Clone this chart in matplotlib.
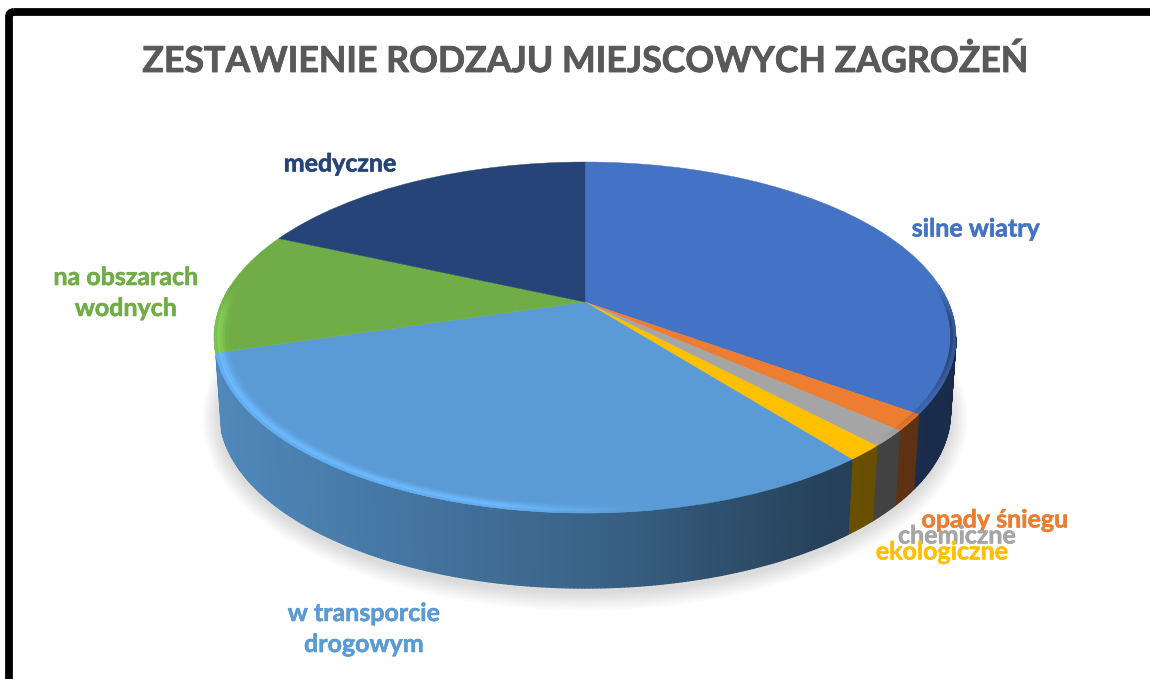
import numpy as np
import matplotlib
matplotlib.use("Agg")
import matplotlib.pyplot as plt
import matplotlib.patheffects as pe
from matplotlib.collections import PolyCollection
from matplotlib.colors import to_rgb
from matplotlib.patches import FancyBboxPatch
from matplotlib.transforms import Transform

# Shares, in percent
categories = ["silne wiatry", "opady śniegu", "chemiczne", "ekologiczne",
              "w transporcie\ndrogowym", "na obszarach\nwodnych", "medyczne"]
values = [35.0, 1.5, 1.5, 1.4, 31.0, 11.3, 18.3]
colors = ["#4472C4", "#ED7D31", "#A5A5A5", "#FFC000", "#5B9BD5", "#70AD47", "#264478"]
title = "ZESTAWIENIE RODZAJU MIEJSCOWYCH ZAGROŻEŃ"

# Label anchors in pixels
label_x = [976, 995, 957, 942, 364, 126, 340]
label_y = [229, 520, 536, 552, 629, 293, 164]

# Perspective of the pie, in pixels
APEX_X, APEX_Y = 585, 302
TILT, DEPTH, WIDTH = 0.2023, 168.3, 363.3
DROP = 75
BOTTOM_SCALE = 0.985


def project(x, y, scale=1.0, drop=0.0):
    w = 1 + TILT * y
    return APEX_X + scale * WIDTH * x / w, APEX_Y - DEPTH * y / w + drop


class PieProjection(Transform):
    input_dims = 2
    output_dims = 2

    def transform_non_affine(self, values):
        px, py = project(values[:, 0], values[:, 1])
        return np.column_stack([px, py])


def side_shade(x):
    return np.interp(x, [215, 600, 830, 955], [0.88, 0.63, 0.42, 0.38])


def rim_glow(x, y):
    # above 0 lightens the rim, below 0 darkens it
    along = np.interp(x, [215, 500, 650, 880, 935, 955], [1, 1, 0, 0, -1, -2])
    return along * np.interp(y, [-0.1, 0.1], [1, 0])


plt.rcParams["font.family"] = ["Lato", "DejaVu Sans"]
fig = plt.figure(figsize=(11.5, 6.79), dpi=100)
ax = fig.add_axes([0, 0, 1, 1])

wedges, _ = ax.pie(values, colors=colors, startangle=90, counterclock=False)
ax.set_aspect("auto")
ax.set_xlim(0, 1150)
ax.set_ylim(679, 0)
ax.axis("off")

# Soft shadow under the pie
t = np.linspace(0, 2 * np.pi, 240)
sx, sy = project(np.cos(t), np.sin(t), BOTTOM_SCALE, DROP)
cx, cy = sx.mean(), sy.mean()
for k in range(18, 0, -1):
    ax.fill(cx + (sx - cx) * (1 + k / 370), cy + (sy - cy) * (1 + k / 180) + 4,
            color="black", alpha=0.009, lw=0, zorder=1)

# Side wall, cut into thin strips so the shading runs left to right
side_polys, side_colors = [], []
for wedge, color in zip(wedges, colors):
    th = np.radians(np.arange(wedge.theta1, wedge.theta2, 0.5))
    th = np.append(th, np.radians(wedge.theta2))
    x, y = np.cos(th), np.sin(th)
    tx, ty = project(x, y)
    bx, by = project(x, y, BOTTOM_SCALE, DROP)
    for i in range(len(th) - 1):
        # only the front of the wall shows; the left slice wraps round the corner
        if y[i] > (-0.3 if x[i] < 0 else -TILT):
            continue
        side_polys.append([(tx[i], ty[i]), (tx[i + 1], ty[i + 1]),
                           (bx[i + 1], by[i + 1]), (bx[i], by[i])])
        side_colors.append(np.array(to_rgb(color)) * side_shade(tx[i]))
ax.add_collection(PolyCollection(side_polys, facecolors=side_colors,
                                 edgecolors=side_colors, linewidths=1.0, zorder=2))

# Top face
for wedge, color in zip(wedges, colors):
    wedge.set_transform(PieProjection() + ax.transData)
    wedge.set_edgecolor(color)
    wedge.set_linewidth(0.3)
    wedge.set_zorder(3)

# Bevel along the front edge of the top face
band_edges = [0.965, 0.972, 0.979, 0.986, 0.993, 1.0]
band_level = [0.15, 0.45, 0.8, 1.0, 0.6]
rim_polys, rim_colors = [], []
for wedge, color in zip(wedges, colors):
    th = np.radians(np.arange(wedge.theta1, wedge.theta2, 0.5))
    th = np.append(th, np.radians(wedge.theta2))
    x, y = np.cos(th), np.sin(th)
    base = np.array(to_rgb(color))
    for b, level in enumerate(band_level):
        ix, iy = project(x * band_edges[b], y * band_edges[b])
        ox, oy = project(x * band_edges[b + 1], y * band_edges[b + 1])
        for i in range(len(th) - 1):
            glow = rim_glow(ox[i], y[i])
            # the dark part of the bevel stays thin
            if glow == 0 or (glow < 0 and b < 3):
                continue
            gain = 1 + 0.2 * level * glow
            rim_polys.append([(ix[i], iy[i]), (ix[i + 1], iy[i + 1]),
                              (ox[i + 1], oy[i + 1]), (ox[i], oy[i])])
            rim_colors.append(np.clip(base * gain, 0, 1))
ax.add_collection(PolyCollection(rim_polys, facecolors=rim_colors,
                                 edgecolors=rim_colors, linewidths=0.3, zorder=4))

# Labels
for name, color, lx, ly in zip(categories, colors, label_x, label_y):
    ax.text(lx, ly, name, color=color, fontsize=18, fontweight="bold",
            ha="center", va="center", linespacing=1.42, zorder=5,
            path_effects=[pe.withStroke(linewidth=0.4, foreground=color)])

ax.text(584.5, 61, title, color="#595959", fontsize=25.7, fontweight="bold",
        ha="center", va="center", zorder=5,
        path_effects=[pe.withStroke(linewidth=0.6, foreground="#595959")])

# Thick black frame that runs off the right and bottom edges
ax.add_patch(FancyBboxPatch((9, 12), 1300, 800, boxstyle="round,pad=0,rounding_size=5",
                            fc="none", ec="black", lw=5.6, zorder=6))

fig.savefig("out.png", dpi=100)
